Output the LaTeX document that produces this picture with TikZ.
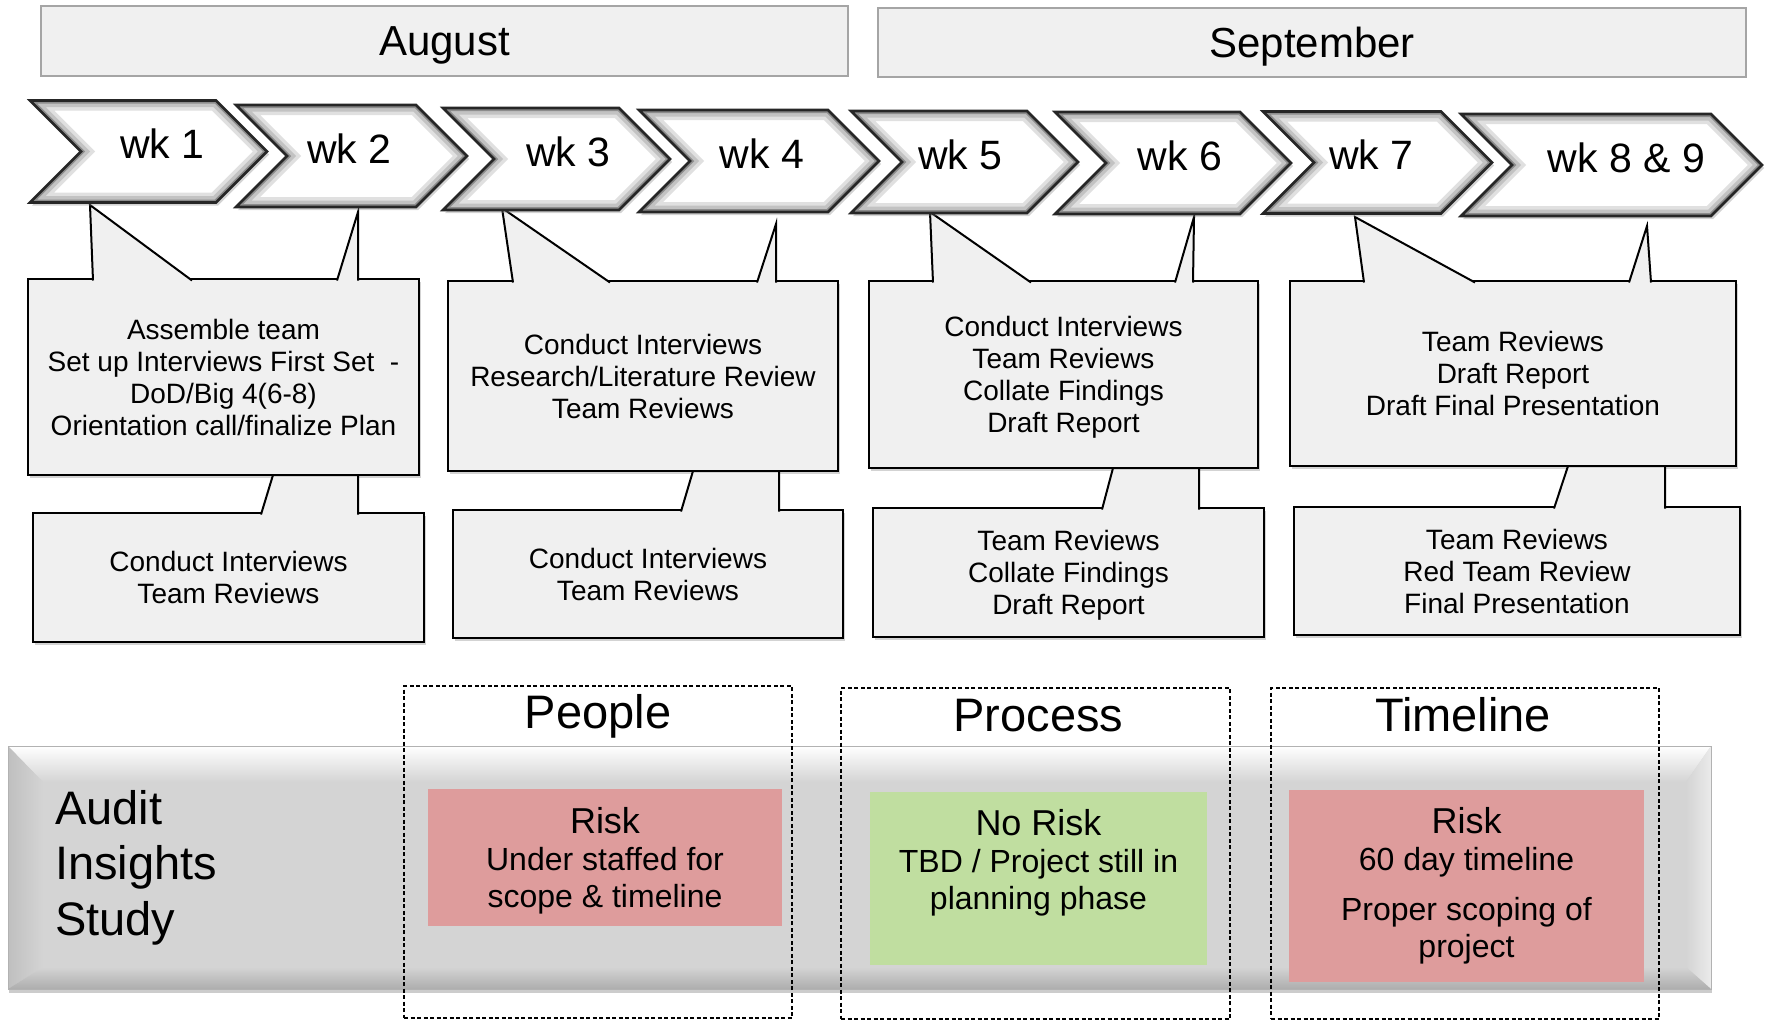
\documentclass[tikz,border=0pt]{standalone}
\usepackage{fontspec}
\setmainfont{Liberation Sans}
\usepackage{xcolor}
\usepackage{tikz}
\usetikzlibrary{shapes.symbols,shadows}

\definecolor{notefill}{RGB}{240,240,240}
\definecolor{monthline}{RGB}{165,165,165}
\definecolor{bandface}{RGB}{212,212,212}
\definecolor{riskred}{RGB}{222,156,156}
\definecolor{okgreen}{RGB}{192,222,160}

\tikzset{
	month/.style={draw=monthline, line width=1.5pt, fill=notefill, inner sep=0pt, text depth=0pt,
		font=\fontsize{42}{48}\selectfont},
	week/.style={shape=signal, signal from=west, signal to=east, signal pointer angle=90,
		draw=black!85, line width=2.6pt, fill=white, minimum height=102pt, inner sep=0pt, outer sep=0pt,
		drop shadow={opacity=0.35, shadow xshift=2pt, shadow yshift=-3pt},
		path picture={
			\foreach \w/\c in {20pt/12, 13pt/24, 6pt/45}
				\draw[black!\c, line width=\w]
					(path picture bounding box.north west) -- ([xshift=51pt]path picture bounding box.west)
					-- (path picture bounding box.south west) -- ([xshift=-51pt]path picture bounding box.south east)
					-- (path picture bounding box.east) -- ([xshift=-51pt]path picture bounding box.north east) -- cycle;
		}},
	wklabel/.style={inner sep=0pt, text depth=0pt, yshift=7.5pt, font=\fontsize{41}{48}\selectfont},
	note/.style={draw=black, line width=2pt, fill=notefill, inner sep=0pt, outer sep=0pt, align=center,
		text depth=0pt, font=\fontsize{28}{32}\selectfont,
		drop shadow={opacity=0.35, shadow xshift=2pt, shadow yshift=-3pt}},
	pointer/.style={draw=black, line width=2pt, fill=notefill},
	band/.style={fill=bandface, inner sep=0pt, outer sep=0pt,
		drop shadow={opacity=0.4, shadow xshift=1pt, shadow yshift=-4pt}},
	bandedge/.style={draw=black!30, line width=1pt},
	dashbox/.style={draw=black, line width=1.6pt, dash pattern=on 4pt off 2.5pt, inner sep=0pt, outer sep=0pt},
	title/.style={anchor=base, inner sep=0pt, font=\fontsize{47}{52}\selectfont},
	riskbox/.style={fill=riskred, inner sep=0pt, align=center, font=\fontsize{32}{37}\selectfont},
	okbox/.style={fill=okgreen, inner sep=0pt, align=center, font=\fontsize{32}{37}\selectfont}
}

\begin{document}
\begin{tikzpicture}[x=1pt, y=-1pt]
	\useasboundingbox (0,0) rectangle (1768,1020);

	%Months
	\node[month, minimum width=807pt, minimum height=70pt] (aug) at (444.5,41) {August};
	\node[month, minimum width=868pt, minimum height=69pt] (sep) at (1312,42.5) {September};

	%Upper notes
	\node[note, minimum width=391pt, minimum height=196pt] (n1) at (223.5,377)
		{Assemble team\\Set up Interviews First Set\ \ -\\DoD/Big 4(6-8)\\Orientation call/finalize Plan};
	\node[note, minimum width=390pt, minimum height=190pt] (n3) at (643,376)
		{Conduct Interviews\\Research/Literature Review\\Team Reviews};
	\node[note, minimum width=389pt, minimum height=187pt] (n5) at (1063.5,374.5)
		{Conduct Interviews\\Team Reviews\\Collate Findings\\Draft Report};
	\node[note, minimum width=446pt, minimum height=185pt] (n7) at (1513,373.5)
		{Team Reviews\\Draft Report\\Draft Final Presentation};

	%Tips under the weeks
	\coordinate (t1) at (90,205);
	\coordinate (t2) at (358,212);
	\coordinate (t3) at (502,208);
	\coordinate (t4) at (776,224);
	\coordinate (t5) at (930,212);
	\coordinate (t6) at (1194,217);
	\coordinate (t7) at (1355,217);
	\coordinate (t8) at (1647,226);

	%Pointers up
	\draw[pointer] ([xshift=65pt,yshift=-1.5pt]n1.north west) -- (t1) -- ([xshift=164pt,yshift=-1.5pt]n1.north west);
	\draw[pointer] ([xshift=309pt,yshift=-1.5pt]n1.north west) -- (t2) -- ([xshift=330pt,yshift=-1.5pt]n1.north west);
	\draw[pointer] ([xshift=65pt,yshift=-1.5pt]n3.north west) -- (t3) -- ([xshift=162pt,yshift=-1.5pt]n3.north west);
	\draw[pointer] ([xshift=309pt,yshift=-1.5pt]n3.north west) -- (t4) -- ([xshift=328pt,yshift=-1.5pt]n3.north west);
	\draw[pointer] ([xshift=64pt,yshift=-1.5pt]n5.north west) -- (t5) -- ([xshift=162pt,yshift=-1.5pt]n5.north west);
	\draw[pointer] ([xshift=306pt,yshift=-1.5pt]n5.north west) -- (t6) -- ([xshift=324pt,yshift=-1.5pt]n5.north west);
	\draw[pointer] ([xshift=74pt,yshift=-1.5pt]n7.north west) -- (t7) -- ([xshift=185pt,yshift=-1.5pt]n7.north west);
	\draw[pointer] ([xshift=339pt,yshift=-1.5pt]n7.north west) -- (t8) -- ([xshift=361pt,yshift=-1.5pt]n7.north west);

	%Lower notes
	\node[note, minimum width=391pt, minimum height=129pt] (m1) at (228.5,577.5) {Conduct Interviews\\Team Reviews};
	\node[note, minimum width=390pt, minimum height=128pt] (m3) at (648,574) {Conduct Interviews\\Team Reviews};
	\node[note, minimum width=391pt, minimum height=129pt] (m5) at (1068.5,572.5)
		{Team Reviews\\Collate Findings\\Draft Report};
	\node[note, minimum width=446pt, minimum height=128pt] (m7) at (1517,571)
		{Team Reviews\\Red Team Review\\Final Presentation};

	%Pointers between notes
	\draw[pointer] ([xshift=228pt,yshift=-1.5pt]m1.north west) -- ([xshift=245pt]n1.south west)
		-- ([xshift=330pt]n1.south west) -- ([xshift=325pt,yshift=-1.5pt]m1.north west);
	\draw[pointer] ([xshift=228pt,yshift=-1.5pt]m3.north west) -- ([xshift=245pt]n3.south west)
		-- ([xshift=331pt]n3.south west) -- ([xshift=326pt,yshift=-1.5pt]m3.north west);
	\draw[pointer] ([xshift=229pt,yshift=-1.5pt]m5.north west) -- ([xshift=244pt]n5.south west)
		-- ([xshift=330pt]n5.south west) -- ([xshift=326pt,yshift=-1.5pt]m5.north west);
	\draw[pointer] ([xshift=260pt,yshift=-1.5pt]m7.north west) -- ([xshift=278pt]n7.south west)
		-- ([xshift=375pt]n7.south west) -- ([xshift=371pt,yshift=-1.5pt]m7.north west);

	%Weeks
	\node[week, minimum width=237pt, label={[wklabel, xshift=14pt]center:wk 1}] (wk1) at (148.5,151.5) {};
	\node[week, minimum width=231pt, label={[wklabel, xshift=-2pt]center:wk 2}] (wk2) at (351.5,156) {};
	\node[week, minimum width=227pt, label={[wklabel, xshift=12pt]center:wk 3}] (wk3) at (556.5,159) {};
	\node[week, minimum width=240pt, label={[wklabel, xshift=3pt]center:wk 4}] (wk4) at (759,161) {};
	\node[week, minimum width=227pt, label={[wklabel, xshift=-4pt]center:wk 5}] (wk5) at (964.5,162) {};
	\node[week, minimum width=236pt, label={[wklabel, xshift=7pt]center:wk 6}] (wk6) at (1173,163) {};
	\node[week, minimum width=229pt, label={[wklabel, xshift=-6pt]center:wk 7}] (wk7) at (1377.5,162.5) {};
	\node[week, minimum width=301pt, label={[wklabel, xshift=15pt]center:wk 8 \& 9}] (wk8) at (1611.5,165) {};

	%Band
	\node[band, minimum width=1703pt, minimum height=243pt] (band) at (859.5,867.5) {};
	\shade[top color=white, bottom color=bandface] (band.north west) -- (band.north east)
		-- ([xshift=-25pt,yshift=-36pt]band.north east) -- ([xshift=35pt,yshift=-36pt]band.north west) -- cycle;
	\shade[left color=black!25, right color=bandface] (band.north west) -- ([xshift=35pt,yshift=-36pt]band.north west)
		-- ([xshift=35pt,yshift=22pt]band.south west) -- (band.south west) -- cycle;
	\shade[left color=bandface, right color=black!8] (band.north east) -- ([xshift=-25pt,yshift=-36pt]band.north east)
		-- ([xshift=-25pt,yshift=22pt]band.south east) -- (band.south east) -- cycle;
	\shade[top color=bandface, bottom color=black!32] (band.south west) -- ([xshift=35pt,yshift=22pt]band.south west)
		-- ([xshift=-25pt,yshift=22pt]band.south east) -- (band.south east) -- cycle;
	\draw[bandedge] (band.north west) rectangle (band.south east);

	\node[anchor=west, align=left, inner sep=0pt, font=\fontsize{47}{55.5}\selectfont] (study) at (55,867.5)
		{Audit\\Insights\\Study};

	%Status boxes
	\node[riskbox, minimum width=354pt, minimum height=137pt, text depth=0pt] (pplrisk) at (605,857.5)
		{{\fontsize{36}{37}\selectfont Risk}\\Under staffed for\\scope \& timeline};
	\node[okbox, minimum width=337pt, minimum height=173pt, text depth=39pt] (procrisk) at (1038.5,878.5)
		{{\fontsize{36}{37}\selectfont No Risk}\\TBD / Project still in\\planning phase};
	\node[riskbox, minimum width=355pt, minimum height=192pt] (timerisk) at (1466.5,886)
		{{\fontsize{36}{37}\selectfont Risk}\\60 day timeline\\[13pt]Proper scoping of\\project};

	%Dashed frames
	\node[dashbox, minimum width=388pt, minimum height=332pt] (people) at (598,852) {};
	\node[dashbox, minimum width=389pt, minimum height=331pt] (process) at (1035.5,853.5) {};
	\node[dashbox, minimum width=388pt, minimum height=331pt] (timeline) at (1465,853.5) {};
	\node[title] (pplttl) at ([yshift=-42pt]people.north) {People};
	\node[title] (procttl) at ([xshift=3pt,yshift=-43pt]process.north) {Process};
	\node[title] (timettl) at ([xshift=-2pt,yshift=-43pt]timeline.north) {Timeline};
\end{tikzpicture}
\end{document}
